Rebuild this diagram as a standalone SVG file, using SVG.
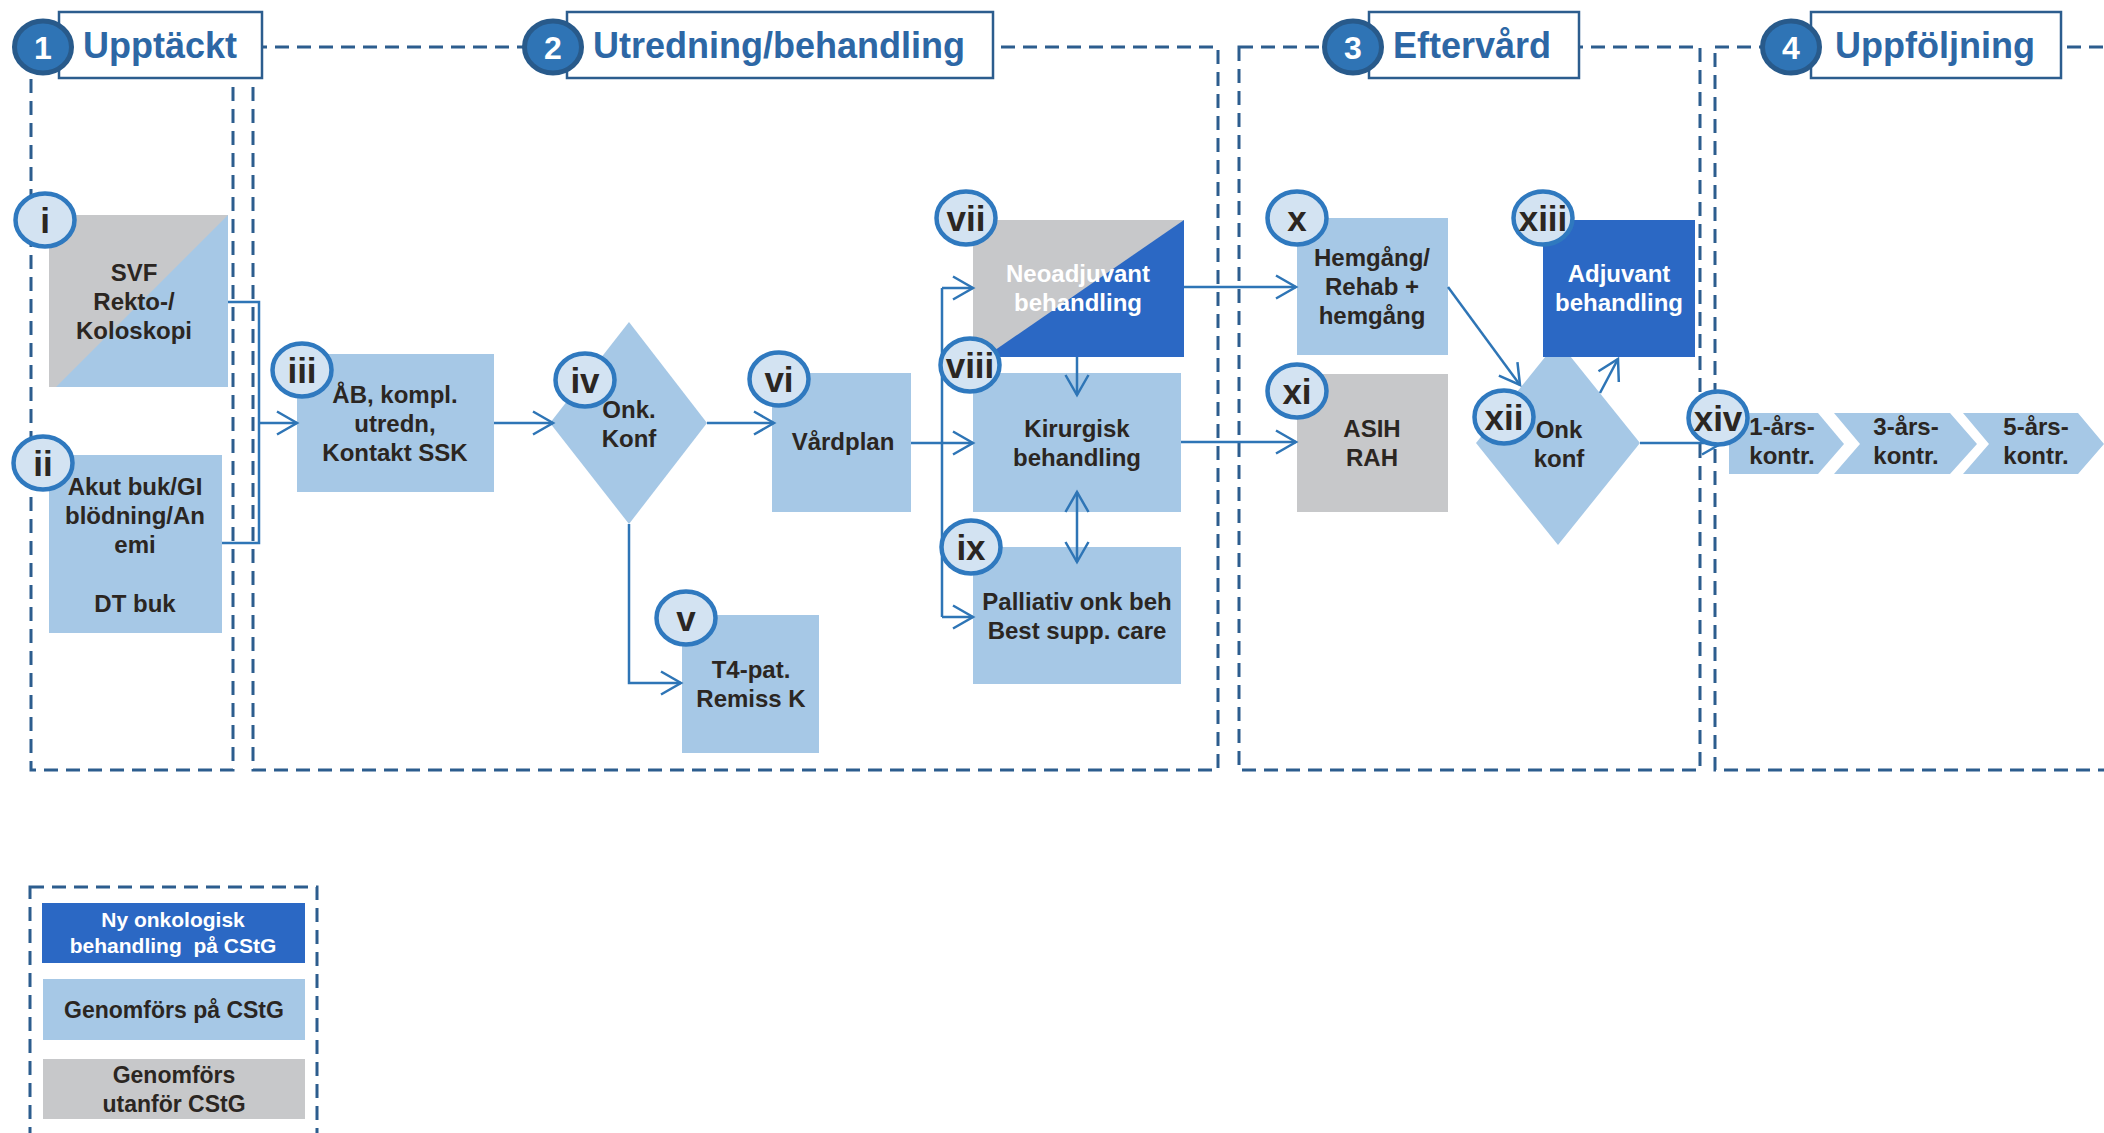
<svg xmlns="http://www.w3.org/2000/svg" width="2104" height="1133" viewBox="0 0 2104 1133">
<defs>
<style>
text{font-family:"Liberation Sans",Arial,sans-serif;font-weight:bold}
.col{fill:none;stroke:#2c5d8e;stroke-width:3;stroke-dasharray:14 8}
.hbox{fill:#fff;stroke:#2c5d8e;stroke-width:2.5}
.htxt{font-size:36px;fill:#2d67a5;text-anchor:middle}
.hcirc{fill:#2f74b5;stroke:#285a8b;stroke-width:5}
.hnum{font-size:32px;fill:#fff;text-anchor:middle}
.lb{fill:#a6c8e6}
.gr{fill:#c7c8ca}
.db{fill:#2b68c4}
.t{font-size:24px;fill:#2b2622;text-anchor:middle}
.tw{font-size:24px;fill:#fff;text-anchor:middle}
.bc{fill:#d3e3f2;stroke:#2f79bf;stroke-width:4.5}
.bt{font-size:35px;fill:#2b2622;text-anchor:middle}
.cn{fill:none;stroke:#2e75b6;stroke-width:2.5}
.arr{marker-end:url(#ah)}
</style>
<marker id="ah" markerUnits="userSpaceOnUse" markerWidth="26" markerHeight="28" viewBox="0 0 26 28" refX="22" refY="14" orient="auto-start-reverse">
<path d="M2,2.5 L22,14 L2,25.5" fill="none" stroke="#2e75b6" stroke-width="2.5"/>
</marker>
</defs>
<rect width="2104" height="1133" fill="#fff"/>

<g id="columns">
<rect class="col" x="31" y="47" width="202" height="723"/>
<rect class="col" x="253" y="47" width="965" height="723"/>
<rect class="col" x="1239" y="47" width="461" height="723"/>
<rect class="col" x="1715" y="47" width="420" height="723"/>
<rect class="col" x="30" y="887" width="287" height="280"/>
</g>

<g id="header1">
<rect class="hbox" x="59" y="12" width="203" height="66"/>
<text class="htxt" x="160" y="58">Upptäckt</text>
<ellipse class="hcirc" cx="43" cy="47" rx="28.5" ry="26"/>
<text class="hnum" x="43" y="59">1</text>
</g>
<g id="header2">
<rect class="hbox" x="567" y="12" width="426" height="66"/>
<text class="htxt" x="779" y="58">Utredning/behandling</text>
<ellipse class="hcirc" cx="553" cy="47" rx="28.5" ry="26"/>
<text class="hnum" x="553" y="59">2</text>
</g>
<g id="header3">
<rect class="hbox" x="1369" y="12" width="210" height="66"/>
<text class="htxt" x="1472" y="58">Eftervård</text>
<ellipse class="hcirc" cx="1353" cy="47" rx="28.5" ry="26"/>
<text class="hnum" x="1353" y="59">3</text>
</g>
<g id="header4">
<rect class="hbox" x="1811" y="12" width="250" height="66"/>
<text class="htxt" x="1935" y="58">Uppföljning</text>
<ellipse class="hcirc" cx="1791" cy="47" rx="28.5" ry="26"/>
<text class="hnum" x="1791" y="59">4</text>
</g>

<g id="node-i">
<rect class="gr" x="49" y="215" width="179" height="172"/>
<polygon class="lb" points="56,387 228,387 228,215"/>
<text class="t"><tspan x="134" y="281">SVF</tspan><tspan x="134" y="310">Rekto-/</tspan><tspan x="134" y="339">Koloskopi</tspan></text>
</g>
<g id="node-ii">
<rect class="lb" x="49" y="455" width="173" height="178"/>
<text class="t"><tspan x="135" y="495">Akut buk/GI</tspan><tspan x="135" y="524">blödning/An</tspan><tspan x="135" y="553">emi</tspan><tspan x="135" y="612">DT buk</tspan></text>
</g>
<g id="node-iii">
<rect class="lb" x="297" y="354" width="197" height="138"/>
<text class="t"><tspan x="395" y="403">ÅB, kompl.</tspan><tspan x="395" y="432">utredn,</tspan><tspan x="395" y="461">Kontakt SSK</tspan></text>
</g>
<g id="node-iv">
<polygon class="lb" points="629,322 707,423 629,524 550,423"/>
<text class="t"><tspan x="629" y="418">Onk.</tspan><tspan x="629" y="447">Konf</tspan></text>
</g>
<g id="node-v">
<rect class="lb" x="682" y="615" width="137" height="138"/>
<text class="t"><tspan x="751" y="678">T4-pat.</tspan><tspan x="751" y="707">Remiss K</tspan></text>
</g>
<g id="node-vi">
<rect class="lb" x="772" y="373" width="139" height="139"/>
<text class="t" x="843" y="450">Vårdplan</text>
</g>
<g id="node-vii">
<rect class="gr" x="973" y="220" width="211" height="137"/>
<polygon class="db" points="985,357 1184,357 1184,220"/>
<text class="tw"><tspan x="1078" y="282">Neoadjuvant</tspan><tspan x="1078" y="311">behandling</tspan></text>
</g>
<g id="node-viii">
<rect class="lb" x="973" y="373" width="208" height="139"/>
<text class="t"><tspan x="1077" y="437">Kirurgisk</tspan><tspan x="1077" y="466">behandling</tspan></text>
</g>
<g id="node-ix">
<rect class="lb" x="973" y="547" width="208" height="137"/>
<text class="t"><tspan x="1077" y="610">Palliativ onk beh</tspan><tspan x="1077" y="639">Best supp. care</tspan></text>
</g>
<g id="node-x">
<rect class="lb" x="1297" y="218" width="151" height="137"/>
<text class="t"><tspan x="1372" y="266">Hemgång/</tspan><tspan x="1372" y="295">Rehab +</tspan><tspan x="1372" y="324">hemgång</tspan></text>
</g>
<g id="node-xi">
<rect class="gr" x="1297" y="374" width="151" height="138"/>
<text class="t"><tspan x="1372" y="437">ASIH</tspan><tspan x="1372" y="466">RAH</tspan></text>
</g>
<g id="node-xii">
<polygon class="lb" points="1558,341 1640,443 1558,545 1476,443"/>
<text class="t"><tspan x="1559" y="438">Onk</tspan><tspan x="1559" y="467">konf</tspan></text>
</g>
<g id="node-xiii">
<rect class="db" x="1543" y="220" width="152" height="137"/>
<text class="tw"><tspan x="1619" y="282">Adjuvant</tspan><tspan x="1619" y="311">behandling</tspan></text>
</g>
<g id="node-xiv">
<polygon class="lb" points="1729,413 1818,413 1844,444 1818,474 1729,474"/>
<polygon class="lb" points="1834,413 1950,413 1977,444 1950,474 1834,474 1860,444"/>
<polygon class="lb" points="1963,413 2078,413 2104,444 2078,474 1963,474 1989,444"/>
<text class="t"><tspan x="1782" y="435">1-års-</tspan><tspan x="1782" y="464">kontr.</tspan></text>
<text class="t"><tspan x="1906" y="435">3-års-</tspan><tspan x="1906" y="464">kontr.</tspan></text>
<text class="t"><tspan x="2036" y="435">5-års-</tspan><tspan x="2036" y="464">kontr.</tspan></text>
</g>

<g id="connectors">
<polyline class="cn" points="228,302 259,302 259,543 222,543"/>
<line class="cn arr" x1="259" y1="423" x2="297" y2="423"/>
<line class="cn arr" x1="494" y1="423" x2="553" y2="423"/>
<line class="cn arr" x1="707" y1="423" x2="774" y2="423"/>
<polyline class="cn arr" points="629,524 629,683 681,683"/>
<line class="cn" x1="942" y1="288" x2="942" y2="617"/>
<line class="cn arr" x1="911" y1="443" x2="973" y2="443"/>
<line class="cn arr" x1="942" y1="288" x2="973" y2="288"/>
<line class="cn arr" x1="942" y1="617" x2="973" y2="617"/>
<line class="cn arr" x1="1077" y1="357" x2="1077" y2="395"/>
<line class="cn arr" x1="1077" y1="562" x2="1077" y2="492" style="marker-start:url(#ah)"/>
<line class="cn arr" x1="1184" y1="287" x2="1296" y2="287"/>
<line class="cn arr" x1="1181" y1="442" x2="1296" y2="442"/>
<line class="cn arr" x1="1448" y1="287" x2="1520" y2="385"/>
<line class="cn arr" x1="1600" y1="393" x2="1618" y2="359"/>
<line class="cn arr" x1="1640" y1="443" x2="1722" y2="443"/>
</g>

<g id="badges">
<g id="badge-i"><ellipse class="bc" cx="45" cy="220" rx="29.5" ry="26.5"/><text class="bt" x="45" y="233">i</text></g>
<g id="badge-ii"><ellipse class="bc" cx="43" cy="463" rx="29.5" ry="26.5"/><text class="bt" x="43" y="476">ii</text></g>
<g id="badge-iii"><ellipse class="bc" cx="302" cy="370" rx="29.5" ry="26.5"/><text class="bt" x="302" y="383">iii</text></g>
<g id="badge-iv"><ellipse class="bc" cx="585" cy="380" rx="29.5" ry="26.5"/><text class="bt" x="585" y="393">iv</text></g>
<g id="badge-v"><ellipse class="bc" cx="686" cy="618" rx="29.5" ry="26.5"/><text class="bt" x="686" y="631">v</text></g>
<g id="badge-vi"><ellipse class="bc" cx="779" cy="379" rx="29.5" ry="26.5"/><text class="bt" x="779" y="392">vi</text></g>
<g id="badge-vii"><ellipse class="bc" cx="966" cy="218" rx="29.5" ry="26.5"/><text class="bt" x="966" y="231">vii</text></g>
<g id="badge-viii"><ellipse class="bc" cx="970" cy="365" rx="29.5" ry="26.5"/><text class="bt" x="970" y="378">viii</text></g>
<g id="badge-ix"><ellipse class="bc" cx="971" cy="547" rx="29.5" ry="26.5"/><text class="bt" x="971" y="560">ix</text></g>
<g id="badge-x"><ellipse class="bc" cx="1297" cy="218" rx="29.5" ry="26.5"/><text class="bt" x="1297" y="231">x</text></g>
<g id="badge-xi"><ellipse class="bc" cx="1297" cy="391" rx="29.5" ry="26.5"/><text class="bt" x="1297" y="404">xi</text></g>
<g id="badge-xii"><ellipse class="bc" cx="1504" cy="417" rx="29.5" ry="26.5"/><text class="bt" x="1504" y="430">xii</text></g>
<g id="badge-xiii"><ellipse class="bc" cx="1543" cy="218" rx="29.5" ry="26.5"/><text class="bt" x="1543" y="231">xiii</text></g>
<g id="badge-xiv"><ellipse class="bc" cx="1718" cy="418" rx="29.5" ry="26.5"/><text class="bt" x="1718" y="431">xiv</text></g>
</g>

<g id="legend">
<rect class="db" x="42" y="903" width="263" height="60"/>
<text style="font-size:21px;fill:#fff;text-anchor:middle"><tspan x="173" y="927">Ny onkologisk</tspan><tspan x="173" y="953">behandling&#160; på CStG</tspan></text>
<rect class="lb" x="43" y="979" width="262" height="61"/>
<text class="t" style="font-size:23px" x="174" y="1018">Genomförs på CStG</text>
<rect class="gr" x="43" y="1059" width="262" height="60"/>
<text class="t" style="font-size:23px"><tspan x="174" y="1083">Genomförs</tspan><tspan x="174" y="1112">utanför CStG</tspan></text>
</g>
</svg>
